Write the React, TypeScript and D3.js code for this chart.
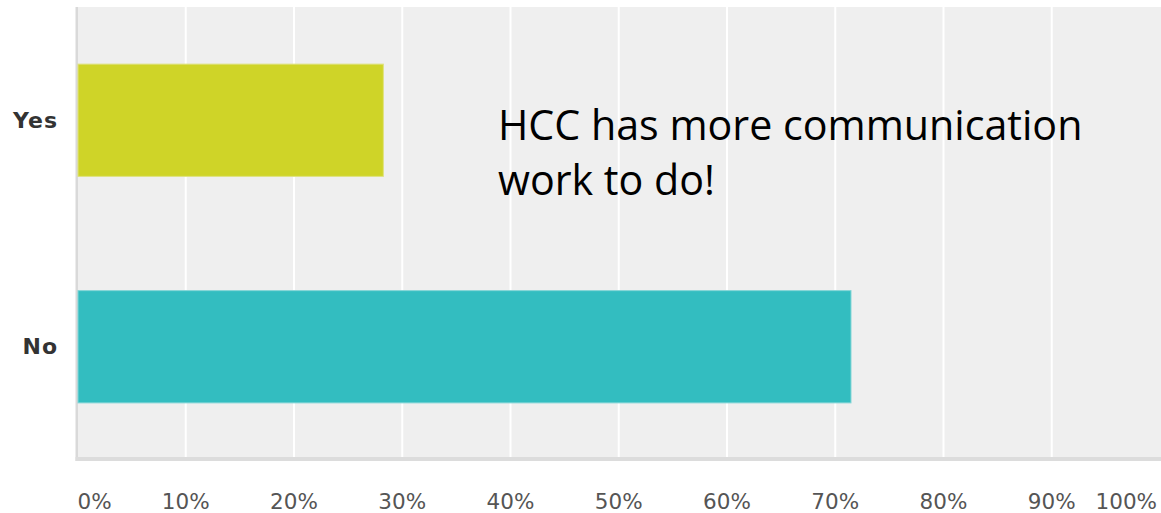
import React from "react";
import * as d3 from "d3";

const categories = ["Yes", "No"];
const values = [28.3, 71.5];
const barColors = ["#cfd428", "#33bdc0"];
const barStroke = ["#dfe27f", "#82d5d7"];
const tickValues = [0, 10, 20, 30, 40, 50, 60, 70, 80, 90, 100];
const annotationLines = ["HCC has more communication", "work to do!"];

export default function App() {
  const W = 1161;
  const H = 513;
  const left = 77.5;
  const right = 1161;
  const top = 7;
  const bottom = 457;

  const x = d3.scaleLinear().domain([0, 100]).range([left, 1160]);
  const y = d3
    .scaleBand<string>()
    .domain(categories)
    .range([top, 460])
    .paddingInner(0.5)
    .paddingOuter(0.25);

  return (
    <svg
      width={W}
      height={H}
      style={{ position: "absolute", left: 0, top: 0, background: "#fff" }}
    >
      <rect x={left} y={top} width={right - left} height={bottom - top} fill="#efefef" />
      {tickValues
        .filter((t) => t > 0 && t < 100)
        .map((t) => (
          <line
            key={t}
            x1={x(t)}
            x2={x(t)}
            y1={top}
            y2={bottom}
            stroke="#ffffff"
            strokeWidth={2}
          />
        ))}
      <rect x={75.5} y={top} width={2.5} height={bottom - top + 4} fill="#d9d9d9" />
      <rect x={75.5} y={bottom} width={right - 75.5} height={4} fill="#dcdcdc" />
      {categories.map((c, i) => (
        <rect
          key={c}
          x={x(0) + 0.5}
          y={(y(c) as number) + 0.5}
          width={x(values[i]) - x(0) - 1}
          height={y.bandwidth() - 1}
          fill={barColors[i]}
          stroke={barStroke[i]}
          strokeWidth={1}
        />
      ))}
      {categories.map((c) => (
        <text
          key={c}
          x={58}
          y={(y(c) as number) + y.bandwidth() / 2}
          textAnchor="end"
          dominantBaseline="central"
          fontFamily="DejaVu Sans"
          fontWeight="bold"
          fontSize={22}
          letterSpacing={1}
          fill="#333"
        >
          {c}
        </text>
      ))}
      {tickValues.map((t, i) => {
        let anchor: "start" | "middle" | "end" = "middle";
        let tx = x(t);
        if (i === 0) {
          anchor = "start";
        } else if (i === tickValues.length - 1) {
          anchor = "end";
          tx = 1157;
        }
        return (
          <text
            key={t}
            x={tx}
            y={509}
            textAnchor={anchor}
            fontFamily="DejaVu Sans"
            fontSize={21.5}
            fill="#555"
          >
            {t + "%"}
          </text>
        );
      })}
      {annotationLines.map((l, i) => (
        <text
          key={i}
          x={498}
          y={140 + i * 55}
          fontFamily="Open Sans"
          fontSize={41.2}
          fill="#000"
        >
          {l}
        </text>
      ))}
    </svg>
  );
}
